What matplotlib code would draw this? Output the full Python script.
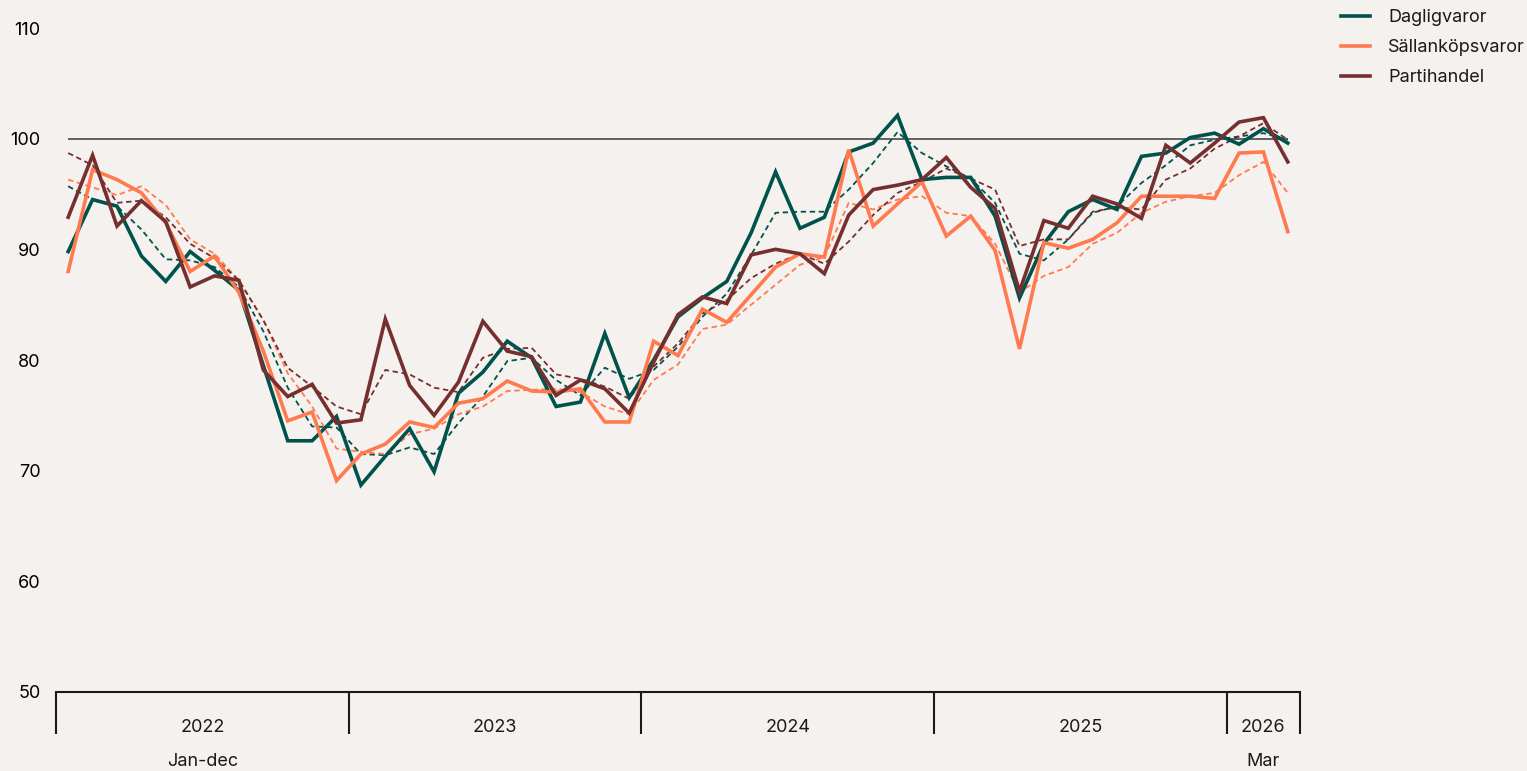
import numpy as np
import matplotlib
matplotlib.use("Agg")
import matplotlib.pyplot as plt
import matplotlib.transforms as mtransforms

plt.rcParams.update({
    "font.family": ["Inter", "DejaVu Sans"],
    "font.size": 13,
    "text.color": "#1a1a1a",
})

# Jan 2022 .. Mar 2026, monthly index (2021 = 100 style)
months = np.arange(51)
years = ["2022", "2023", "2024", "2025", "2026"]
year_starts = [0, 12, 24, 36, 48]

daglig = [89.8, 94.5, 93.9, 89.4, 87.1, 89.8, 88.1, 86.3, 79.5, 72.7, 72.7, 74.9,
          68.7, 71.3, 73.8, 69.9, 77.0, 78.9, 81.7, 80.2, 75.8, 76.2, 82.4, 76.6,
          80.0, 83.9, 85.6, 87.1, 91.5, 97.0, 91.9, 92.9, 98.8, 99.6, 102.1, 96.3,
          96.5, 96.5, 93.0, 85.6, 90.5, 93.4, 94.5, 93.6, 98.4, 98.7, 100.1, 100.5,
          99.5, 100.9, 99.6]
daglig_trend = [95.7, 94.5, 93.9, 91.8, 89.1, 89.0, 88.4, 86.6, 82.6, 77.5, 74.0, 73.9,
                71.5, 71.4, 72.1, 71.5, 74.3, 76.7, 79.9, 80.2, 78.2, 76.8, 79.3, 78.3,
                79.1, 81.2, 83.9, 86.0, 89.5, 93.3, 93.4, 93.4, 95.4, 97.8, 100.6, 98.7,
                97.5, 96.4, 94.2, 89.6, 89.0, 90.9, 93.3, 93.9, 96.0, 97.6, 99.4, 99.9,
                100.2, 100.5, 99.9]

sallan = [88.0, 97.2, 96.3, 95.1, 92.4, 88.0, 89.4, 86.1, 80.8, 74.5, 75.3, 69.1,
          71.5, 72.4, 74.4, 73.9, 76.1, 76.5, 78.1, 77.2, 77.1, 77.4, 74.4, 74.4,
          81.7, 80.4, 84.6, 83.4, 85.9, 88.4, 89.6, 89.3, 99.0, 92.1, 94.1, 96.1,
          91.2, 93.0, 89.9, 81.0, 90.6, 90.1, 90.9, 92.4, 94.8, 94.8, 94.8, 94.6,
          98.7, 98.8, 91.6]
sallan_trend = [96.3, 95.6, 94.9, 95.7, 94.0, 90.9, 89.6, 87.2, 83.6, 78.8, 75.8, 72.0,
                71.7, 71.5, 73.3, 73.8, 75.1, 75.8, 77.2, 77.3, 77.4, 77.1, 75.8, 75.1,
                78.2, 79.6, 82.8, 83.2, 85.0, 86.8, 88.6, 89.3, 94.2, 93.6, 94.5, 94.8,
                93.3, 93.0, 90.5, 86.1, 87.6, 88.4, 90.5, 91.5, 93.3, 94.3, 94.8, 95.1,
                96.7, 97.9, 95.1]

parti = [92.9, 98.5, 92.1, 94.4, 92.5, 86.6, 87.6, 87.2, 79.1, 76.7, 77.8, 74.3,
         74.6, 83.7, 77.7, 75.0, 78.0, 83.5, 80.8, 80.3, 76.8, 78.2, 77.4, 75.2,
         79.8, 84.1, 85.7, 85.1, 89.5, 90.0, 89.6, 87.8, 93.1, 95.4, 95.8, 96.3,
         98.3, 95.6, 93.7, 86.2, 92.6, 91.9, 94.8, 94.1, 92.8, 99.4, 97.8, 99.6,
         101.5, 101.9, 97.9]
parti_trend = [98.7, 97.6, 94.2, 94.4, 92.9, 90.5, 89.2, 87.2, 83.6, 79.3, 77.6, 75.8,
               75.1, 79.1, 78.7, 77.5, 77.1, 80.2, 81.0, 81.1, 78.7, 78.3, 77.6, 76.5,
               79.4, 81.5, 84.2, 85.4, 87.4, 88.7, 89.6, 88.7, 90.7, 93.1, 95.1, 96.1,
               97.3, 96.4, 95.4, 90.3, 90.9, 90.9, 93.4, 93.8, 93.6, 96.3, 97.3, 99.1,
               100.2, 101.4, 99.9]

BG = "#F5F1EE"
GREEN = "#00534B"
ORANGE = "#FF7A4F"
RED = "#762F2F"

fig = plt.figure(figsize=(15.27, 7.71), dpi=100, facecolor=BG)
ax = fig.add_axes([56 / 1527, 79 / 771, 1244 / 1527, 664 / 771], facecolor=BG)

ax.hlines(100, 0, 50, color="#3a3a3a", lw=1.1, zorder=1)

for vals, trend, col, name in [(daglig, daglig_trend, GREEN, "Dagligvaror"),
                               (sallan, sallan_trend, ORANGE, "Sällanköpsvaror"),
                               (parti, parti_trend, RED, "Partihandel")]:
    ax.plot(months, trend, ls=(0, (3, 2)), lw=1.3, color=col, zorder=2)
    ax.plot(months, vals, lw=2.6, color=col, label=name, zorder=3, solid_joinstyle="miter")

ax.set_xlim(-0.5, 50.5)
ax.set_ylim(50, 110)
ax.set_yticks([50, 60, 70, 80, 90, 100, 110])
ax.tick_params(axis="y", length=0, pad=11, labelsize=13)
for s in ["top", "right", "left"]:
    ax.spines[s].set_visible(False)
ax.spines["bottom"].set_linewidth(1.5)
ax.spines["bottom"].set_color("#1a1a1a")

# year brackets on the x axis
bounds = [s - 0.5 for s in year_starts] + [50.5]
ax.set_xticks(bounds)
ax.set_xticklabels([])
ax.tick_params(axis="x", length=30, width=1.5, color="#1a1a1a", direction="out")

trans = mtransforms.blended_transform_factory(ax.transData, ax.transAxes)
for i, y in enumerate(years):
    center = (bounds[i] + bounds[i + 1]) / 2
    ax.text(center, -0.053, y, transform=trans, ha="center", va="center", fontsize=13)
ax.text((bounds[0] + bounds[1]) / 2, -0.104, "Jan-dec", transform=trans, ha="center", va="center", fontsize=13)
ax.text((bounds[4] + bounds[5]) / 2, -0.104, "Mar", transform=trans, ha="center", va="center", fontsize=13)

fig.legend(loc="upper left", bbox_to_anchor=(1334 / 1527, 1 - 2 / 771), frameon=False,
           borderaxespad=0, fontsize=13, handlelength=1.6, handletextpad=1.0, labelspacing=0.72)

fig.savefig("out.png", dpi=100, facecolor=BG)
